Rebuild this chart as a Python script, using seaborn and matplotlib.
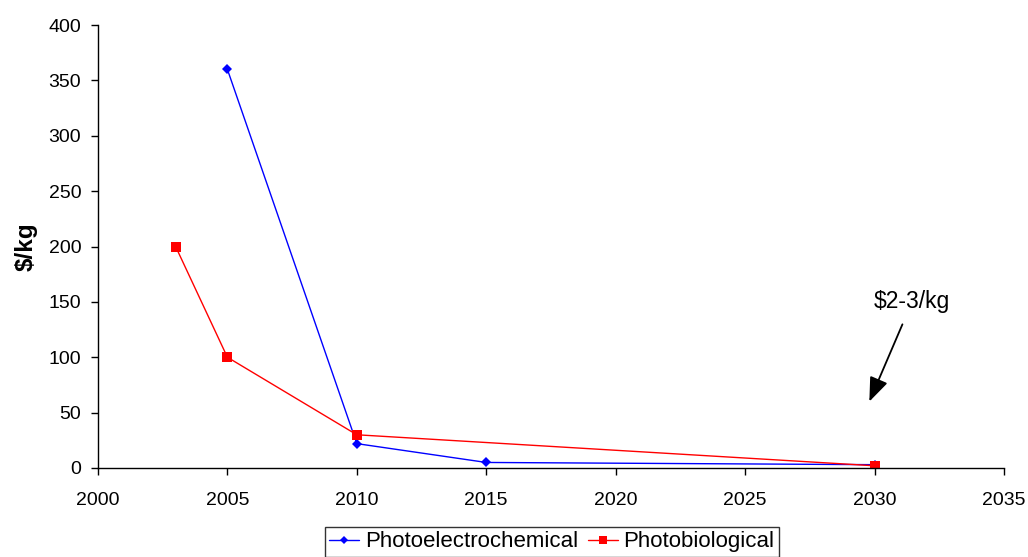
import matplotlib
matplotlib.use("Agg")
import matplotlib.pyplot as plt
import seaborn as sns
import pandas as pd

pec_years = [2005, 2010, 2015, 2030]
pec_cost = [360, 22, 5, 3]
pbio_years = [2003, 2005, 2010, 2030]
pbio_cost = [200, 100, 30, 2]
x_ticks = [2000, 2005, 2010, 2015, 2020, 2025, 2030, 2035]
y_ticks = [0, 50, 100, 150, 200, 250, 300, 350, 400]

sns.set_theme(style="white")
plt.rcParams["font.family"] = ["Liberation Sans", "DejaVu Sans"]
plt.rcParams["text.color"] = "black"

fig = plt.figure(figsize=(10.28, 5.57), dpi=100)
ax = fig.add_axes([0.0953, 0.1598, 0.8813, 0.7952])

sns.lineplot(x=pec_years, y=pec_cost, ax=ax, color="blue", marker="D",
             markersize=5.5, markeredgewidth=0, linewidth=1,
             label="Photoelectrochemical")
sns.lineplot(x=pbio_years, y=pbio_cost, ax=ax, color="red", marker="s",
             markersize=6.5, markeredgewidth=0, linewidth=1,
             label="Photobiological")

ax.set_xlim(2000, 2035)
ax.set_ylim(0, 400)
ax.set_xticks(x_ticks)
ax.set_yticks(y_ticks)
ax.tick_params(axis="both", labelsize=14, direction="out", length=5,
               width=1, color="black", labelcolor="black", bottom=True, left=True)
ax.tick_params(axis="x", pad=12)
ax.tick_params(axis="y", pad=7)
for s in ["top", "right"]:
    ax.spines[s].set_visible(False)
for s in ["left", "bottom"]:
    ax.spines[s].set_color("black")
    ax.spines[s].set_linewidth(1)
ax.set_ylabel(r"\$/kg", fontsize=17.5, fontweight="bold", color="black", labelpad=8)
ax.set_xlabel("")

ax.annotate(r"\$2-3/kg", xy=(2029.8, 60), xytext=(2031.45, 150),
            fontsize=16.5, ha="center", va="center", color="black",
            arrowprops=dict(arrowstyle="-|>,head_width=0.35,head_length=0.9",
                            color="black", lw=1.3, shrinkA=6, shrinkB=0))

leg = ax.legend(loc="upper center", bbox_to_anchor=(0.501, -0.133), ncol=2,
                fontsize=16, frameon=True, fancybox=False, handlelength=1.35,
                handletextpad=0.25, columnspacing=0.45, borderpad=0.2,
                borderaxespad=0, labelcolor="black", markerscale=0.8)
leg.get_frame().set_edgecolor("black")
leg.get_frame().set_linewidth(1)

fig.savefig("out.png", dpi=100, facecolor="white")
